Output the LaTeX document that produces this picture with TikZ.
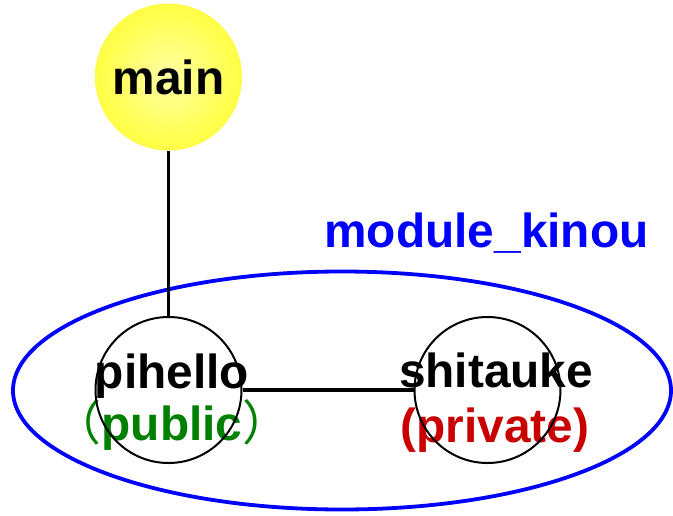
\documentclass[tikz,border=0pt]{standalone}
\usepackage{fontspec}
\setmainfont{Liberation Sans}
\newfontfamily\cjkfont{Noto Sans CJK JP}
\usetikzlibrary{shapes,positioning}

\definecolor{mainyellow}{RGB}{244,236,30}
\definecolor{pubgreen}{RGB}{0,128,0}
\definecolor{privred}{RGB}{200,0,0}
\pgfdeclareradialshading{mainball}{\pgfpoint{0bp}{0bp}}{color(0bp)=(yellow!35!white); color(22bp)=(yellow!70!white); color(50bp)=(mainyellow)}

\begin{document}
\begin{tikzpicture}[x=1pt,y=-1pt,
  every node/.style={font=\fontsize{47.8}{52}\selectfont\bfseries},
  modball/.style={circle,draw,line width=2pt,minimum size=146pt,inner sep=0pt},
  link/.style={line width=3.6pt}]
\useasboundingbox (0,0) rectangle (673,515);
% module boundary
\draw[blue,line width=3.8pt](342,390.5) ellipse [x radius=329,y radius=119];
\node[anchor=base,text=blue] (kinou) at (486.5,247) {module\_kinou};
% labels
\node[anchor=base] (pihellotxt) at (172,388) {pihello};
\node[anchor=base,text=pubgreen] (publictxt) at (172,440) {{\cjkfont\mdseries （}public{\cjkfont\mdseries ）}};
\node[anchor=base] (shitauketxt) at (496,387) {shitauke};
\node[anchor=base,text=privred] (privatetxt) at (495,442) {(private)};
% circles
\node[circle,shading=mainball,minimum size=147pt,inner sep=0pt] (main) at (168.5,77) {main};
\node[modball] (pihello) at (168.5,390) {};
\node[modball] (shitauke) at (487.5,390) {};
\draw[link](main)--(pihello);
\draw[link](pihello)--(shitauke);
\end{tikzpicture}
\end{document}
